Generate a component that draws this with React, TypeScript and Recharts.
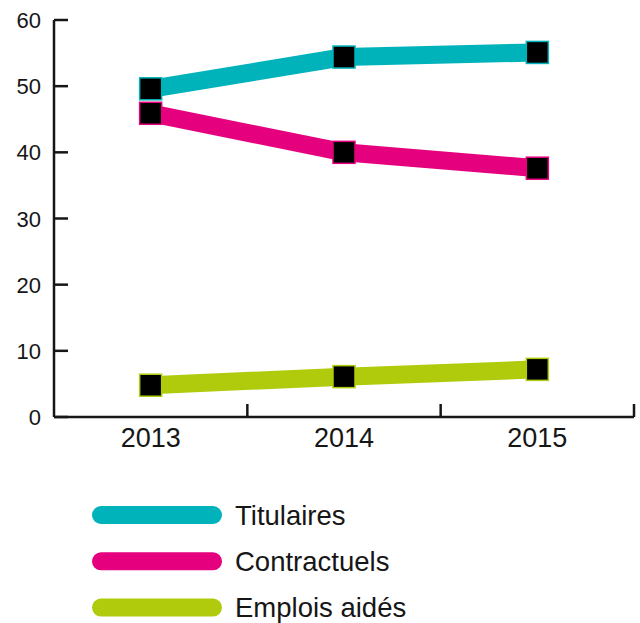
import { ComposedChart, Line, XAxis, YAxis } from "recharts";

const years = ["2013", "2014", "2015"];
const titulaires = [49.6, 54.4, 55.1];
const contractuels = [45.9, 40.0, 37.6];
const emploisAides = [4.8, 6.1, 7.2];
const yTicks = [0, 10, 20, 30, 40, 50, 60];

const series = [
  { key: "titulaires", name: "Titulaires", color: "#00b3bb" },
  { key: "contractuels", name: "Contractuels", color: "#e5007e" },
  { key: "emplois", name: "Emplois aidés", color: "#b0cb0c" },
];

const data = years.map((year, i) => ({
  year,
  titulaires: titulaires[i],
  contractuels: contractuels[i],
  emplois: emploisAides[i],
}));

const FONT = "'Liberation Sans', Arial, Helvetica, sans-serif";
const INK = "#161616";
const HALF_BAND = 580 / 6;

function XTick({ x, y, payload }: any) {
  return (
    <g>
      <text x={x} y={y + 30} textAnchor="middle" fontSize={27} fontFamily={FONT} fill={INK}>
        {payload.value}
      </text>
      <line x1={x + HALF_BAND} x2={x + HALF_BAND} y1={y} y2={y - 13} stroke={INK} strokeWidth={2.5} />
    </g>
  );
}

function YTick({ x, y, payload }: any) {
  return (
    <g>
      <line x1={x} x2={x + 14} y1={y} y2={y} stroke={INK} strokeWidth={2.5} />
      <text x={x - 13} y={y + 8} textAnchor="end" fontSize={22} fontFamily={FONT} fill={INK}>
        {payload.value}
      </text>
    </g>
  );
}

function squareDot(color: string) {
  return (props: any) => (
    <rect
      key={`${color}-${props.index}`}
      x={props.cx - 11}
      y={props.cy - 11}
      width={22}
      height={22}
      fill="#000"
      stroke={color}
      strokeWidth={1.5}
    />
  );
}

export default function App() {
  return (
    <div style={{ position: "absolute", left: 0, top: 0, width: 640, height: 623, background: "#fff" }}>
      <ComposedChart width={640} height={623} data={data} margin={{ top: 20, right: 6, bottom: 146, left: 0 }}>
        <XAxis
          dataKey="year"
          scale="band"
          height={60}
          tickLine={false}
          tickSize={0}
          tickMargin={0}
          tick={<XTick />}
          axisLine={{ stroke: INK, strokeWidth: 2.5 }}
        />
        <YAxis
          width={54}
          domain={[0, 60]}
          ticks={yTicks}
          tickLine={false}
          tickSize={0}
          tickMargin={0}
          tick={<YTick />}
          axisLine={{ stroke: INK, strokeWidth: 2.5 }}
        />
        {series.map(s => (
          <Line
            key={s.key}
            dataKey={s.key}
            name={s.name}
            stroke={s.color}
            strokeWidth={18}
            dot={squareDot(s.color)}
            activeDot={false}
            isAnimationActive={false}
          />
        ))}
      </ComposedChart>
      <svg style={{ position: "absolute", left: 0, top: 490 }} width={640} height={133}>
        {series.map((s, i) => {
          const cy = 25 + i * 46.3;
          return (
            <g key={s.key}>
              <line x1={101} x2={213} y1={cy} y2={cy} stroke={s.color} strokeWidth={18} strokeLinecap="round" />
              <text x={235} y={cy + 9.5} fontSize={27.5} fontFamily={FONT} fill={INK}>
                {s.name}
              </text>
            </g>
          );
        })}
      </svg>
    </div>
  );
}
